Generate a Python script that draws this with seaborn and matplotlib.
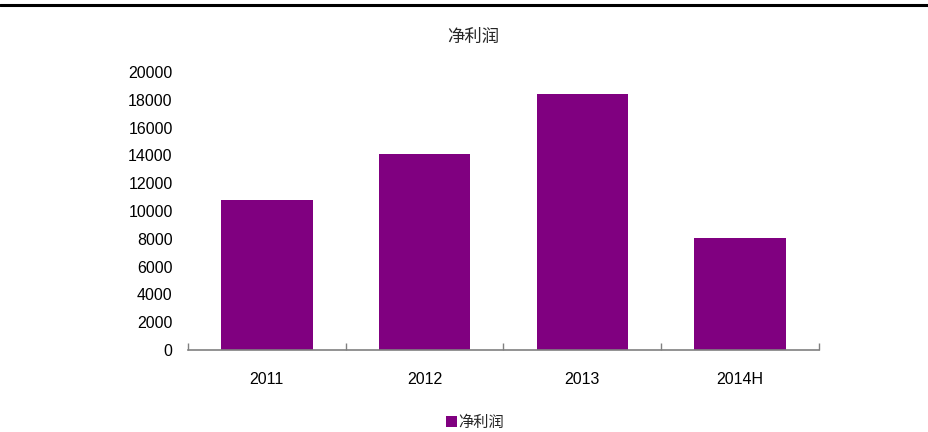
import matplotlib
matplotlib.use("Agg")
import matplotlib.pyplot as plt
from matplotlib.lines import Line2D
from matplotlib.patches import Patch
import seaborn as sns
import pandas as pd

years = ["2011", "2012", "2013", "2014H"]
net_profit = [10800, 14100, 18420, 8060]
series_name = "净利润"

sns.set_theme(style="white")
plt.rcParams['font.family'] = ['Liberation Sans', 'Noto Sans CJK SC', 'DejaVu Sans']

df = pd.DataFrame({"year": years, "value": net_profit})

fig = plt.figure(figsize=(9.29, 4.32), dpi=100)
ax = fig.add_axes([188/929, 1-350/432, 631/929, 278/432])
sns.barplot(data=df, x="year", y="value", color="#800080", width=0.58,
            saturation=1, ax=ax, edgecolor="none")

ax.set_ylim(0, 20000)
ax.set_xlim(-0.5, 3.5)
ax.set_yticks(range(0, 20001, 2000))
ax.set_xlabel("")
ax.set_ylabel("")
for s in ["top", "right", "left"]:
    ax.spines[s].set_visible(False)
ax.spines["bottom"].set_color("#808080")
ax.spines["bottom"].set_linewidth(1.2)
ax.tick_params(axis="y", length=0, pad=11, labelsize=11.5, labelcolor="black")
ax.tick_params(axis="x", which="major", length=0, pad=16, labelsize=11.5, labelcolor="black")
ax.set_xticks([-0.5, 0.5, 1.5, 2.5, 3.5], minor=True)
ax.tick_params(axis="x", which="minor", bottom=True, direction="in", length=5,
               color="#808080", width=1)

fig.text(473/929, 1-37/432, series_name, ha="center", va="center", fontsize=12.5,
         family=['Noto Sans CJK SC', 'DejaVu Sans'])

fig.add_artist(Line2D([0, 1], [1-5/432, 1-5/432], color="black", linewidth=2.2,
                      transform=fig.transFigure))

handles = [Patch(facecolor="#800080", edgecolor="none", label=series_name)]
leg = fig.legend(handles=handles, loc="center", bbox_to_anchor=(475/929, 1-422/432),
                 frameon=False, handlelength=0.7, handleheight=0.7, handletextpad=0.1,
                 prop={'family': ['Noto Sans CJK SC', 'DejaVu Sans'], 'size': 11})

fig.savefig("out.png", dpi=100)
